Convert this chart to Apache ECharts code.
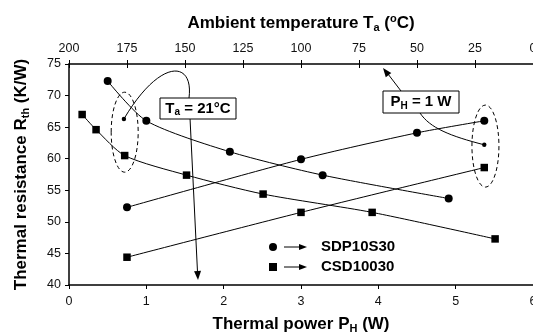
<!DOCTYPE html>
<html>
<head>
<meta charset="utf-8">
<script src="https://cdn.jsdelivr.net/npm/echarts@6/dist/echarts.min.js"></script>
<style>
html,body{margin:0;padding:0;background:#fff;}
#main{width:533px;height:334px;}
</style>
</head>
<body>
<div id="main"></div>
<script>
// Rth vs PH at Ta = 21°C (bottom axis)
var sdpPower = [0.5, 1.0, 2.08, 3.28, 4.91];
var sdpRthPower = [72.3, 66.0, 61.1, 57.4, 53.7];
var csdPower = [0.17, 0.35, 0.72, 1.52, 2.51, 3.92, 5.51];
var csdRthPower = [67.0, 64.6, 60.5, 57.4, 54.4, 51.5, 47.3];
// Rth vs Ta at PH = 1 W (top axis)
var sdpTemp = [175, 100, 50, 21];
var sdpRthTemp = [52.3, 59.9, 64.1, 66.0];
var csdTemp = [175, 100, 21];
var csdRthTemp = [44.4, 51.5, 58.6];

// axis ranges [min, max, interval]
var powerRange = [0, 6, 1];
var tempRange = [0, 200, 25];
var rthRange = [40, 75, 5];

var FONT = 'Liberation Sans, Arial, sans-serif';

function pairs(xs, ys){
	var out = [];
	for(var i = 0; i < xs.length; i++){
		out.push([xs[i], ys[i]]);
	}
	return out;
}

function lineSeries(name, xIdx, data, symbol){
	return {
		name: name,
		type: 'line',
		xAxisIndex: xIdx,
		yAxisIndex: 0,
		data: data,
		symbol: symbol,
		symbolSize: symbol == 'circle' ? 8 : 7.5,
		smooth: 0.25,
		lineStyle: {color: '#000', width: 1},
		itemStyle: {color: '#000'},
		z: 3
	};
}

// rich text for the axis titles (bigger) and the boxes
var titleRich = {
	b: {fontFamily: FONT, fontWeight: 'bold', fontSize: 17, color: '#000'},
	s: {fontFamily: FONT, fontWeight: 'bold', fontSize: 11, color: '#000', verticalAlign: 'bottom', padding: [9, 0, 0, 0]},
	u: {fontFamily: FONT, fontWeight: 'bold', fontSize: 11, color: '#000', verticalAlign: 'top', padding: [0, 0, 9, 0]}
};
var boxRich = {
	b: {fontFamily: FONT, fontWeight: 'bold', fontSize: 15, color: '#000'},
	s: {fontFamily: FONT, fontWeight: 'bold', fontSize: 10, color: '#000', verticalAlign: 'bottom', padding: [8, 0, 0, 0]}
};

var myChart = echarts.init(document.getElementById('main'));

var option = {
	animation: false,
	backgroundColor: '#fff',
	grid: {left: 69, top: 64, right: 0, bottom: 49, containLabel: false, outerBoundsMode: 'none'},
	xAxis: [{
		type: 'value',
		position: 'bottom',
		min: powerRange[0], max: powerRange[1], interval: powerRange[2],
		name: '{b|Thermal power P}{s|H}{b| (W)}',
		nameLocation: 'middle',
		nameGap: 29,
		nameTextStyle: {rich: titleRich},
		axisLine: {show: true, lineStyle: {color: '#000', width: 1.5}},
		axisTick: {show: true, inside: false, length: 4, lineStyle: {color: '#000'}},
		axisLabel: {fontFamily: FONT, fontSize: 12.5, color: '#111', margin: 10},
		splitLine: {show: false}
	}, {
		type: 'value',
		position: 'top',
		inverse: true,
		min: tempRange[0], max: tempRange[1], interval: tempRange[2],
		name: '{b|Ambient temperature T}{s|a}{b| (}{u|o}{b|C)}',
		nameLocation: 'middle',
		nameGap: 31,
		nameTextStyle: {rich: titleRich},
		axisLine: {show: true, lineStyle: {color: '#000', width: 1.5}},
		axisTick: {show: true, inside: false, length: 4, lineStyle: {color: '#000'}},
		axisLabel: {fontFamily: FONT, fontSize: 12.5, color: '#111', margin: 9},
		splitLine: {show: false}
	}, {
		// inner half of the crossing ticks on the top axis
		type: 'value',
		position: 'top',
		inverse: true,
		min: tempRange[0], max: tempRange[1], interval: tempRange[2],
		axisLine: {show: false},
		axisTick: {show: true, inside: true, length: 4, lineStyle: {color: '#000'}},
		axisLabel: {show: false},
		splitLine: {show: false}
	}],
	yAxis: [{
		type: 'value',
		min: rthRange[0], max: rthRange[1], interval: rthRange[2],
		name: '{b|Thermal resistance R}{s|th}{b| (K/W)}',
		nameLocation: 'middle',
		nameRotate: 90,
		nameGap: 38,
		nameTextStyle: {rich: titleRich},
		axisLine: {show: true, lineStyle: {color: '#000', width: 1.5}},
		axisTick: {show: true, inside: false, length: 4, lineStyle: {color: '#000'}},
		axisLabel: {fontFamily: FONT, fontSize: 12.5, color: '#111', margin: 8},
		splitLine: {show: false}
	}],
	series: [
		lineSeries('SDP10S30', 0, pairs(sdpPower, sdpRthPower), 'circle'),
		lineSeries('CSD10030', 0, pairs(csdPower, csdRthPower), 'rect'),
		lineSeries('SDP10S30 Ta', 1, pairs(sdpTemp, sdpRthTemp), 'circle'),
		lineSeries('CSD10030 Ta', 1, pairs(csdTemp, csdRthTemp), 'rect')
	]
};
myChart.setOption(option, true);

// 注释: ellipses, call-outs and legend
function px(xIdx, x, y){
	return myChart.convertToPixel({xAxisIndex: xIdx, yAxisIndex: 0}, [x, y]);
}

function arrowHead(x1, y1, x2, y2, len, half){
	var a = Math.atan2(y2 - y1, x2 - x1);
	var bx = x2 - len * Math.cos(a), by = y2 - len * Math.sin(a);
	var nx = -Math.sin(a) * half, ny = Math.cos(a) * half;
	return {
		type: 'polygon',
		shape: {points: [[x2, y2], [bx + nx, by + ny], [bx - nx, by - ny]]},
		style: {fill: '#000'},
		z: 10
	};
}

function seg(x1, y1, x2, y2){
	return {type: 'line', shape: {x1: x1, y1: y1, x2: x2, y2: y2}, style: {stroke: '#000', lineWidth: 1}, z: 10};
}

var lc = px(0, 0.72, 64.2);
var ld = px(0, 0.71, 66.3);
var rc = px(1, 20.5, 62.0);
var rd = px(1, 21, 62.2);

var g = [];
// dashed ellipses
g.push({type: 'ellipse', shape: {cx: lc[0], cy: lc[1], rx: 13.5, ry: 40}, style: {fill: 'none', stroke: '#000', lineWidth: 1, lineDash: [4, 3]}, z: 10});
g.push({type: 'ellipse', shape: {cx: rc[0], cy: rc[1], rx: 13.5, ry: 41}, style: {fill: 'none', stroke: '#000', lineWidth: 1, lineDash: [4, 3]}, z: 10});
g.push({type: 'circle', shape: {cx: ld[0], cy: ld[1], r: 2.2}, style: {fill: '#000'}, z: 10});
g.push({type: 'circle', shape: {cx: rd[0], cy: rd[1], r: 2.2}, style: {fill: '#000'}, z: 10});

// Ta = 21°C call-out
g.push({type: 'bezierCurve', shape: {x1: ld[0], y1: ld[1], cpx1: 160, cpy1: 58, cpx2: 194, cpy2: 60, x2: 189, y2: 98}, style: {stroke: '#000', lineWidth: 1, fill: 'none'}, z: 10});
g.push(seg(190, 118, 197.5, 272));
g.push(arrowHead(190, 118, 198, 280, 9, 3.5));
g.push({type: 'rect', shape: {x: 160, y: 98, width: 76, height: 21}, style: {fill: '#fff', stroke: '#000', lineWidth: 1}, z: 11});
g.push({type: 'text', x: 198, y: 108.5, style: {text: '{b|T}{s|a}{b| = 21°C}', rich: boxRich, align: 'center', verticalAlign: 'middle'}, z: 12});

// PH = 1 W call-out
g.push(seg(401, 91, 388, 74));
g.push(arrowHead(401, 91, 383, 68, 9, 3.5));
g.push({type: 'bezierCurve', shape: {x1: 420, y1: 113, cpx1: 430, cpy1: 128, cpx2: 450, cpy2: 136, x2: rd[0], y2: rd[1]}, style: {stroke: '#000', lineWidth: 1, fill: 'none'}, z: 10});
g.push({type: 'rect', shape: {x: 383, y: 91, width: 76, height: 22}, style: {fill: '#fff', stroke: '#000', lineWidth: 1}, z: 11});
g.push({type: 'text', x: 421, y: 102, style: {text: '{b|P}{s|H}{b| = 1 W}', rich: boxRich, align: 'center', verticalAlign: 'middle'}, z: 12});

// legend
g.push({type: 'circle', shape: {cx: 273, cy: 247, r: 4}, style: {fill: '#000'}, z: 10});
g.push(seg(284, 247, 300, 247));
g.push(arrowHead(284, 247, 307, 247, 8, 3));
g.push({type: 'text', x: 321, y: 247, style: {text: 'SDP10S30', fontFamily: FONT, fontWeight: 'bold', fontSize: 15, fill: '#000', verticalAlign: 'middle'}, z: 10});
g.push({type: 'rect', shape: {x: 269, y: 263, width: 8, height: 8}, style: {fill: '#000'}, z: 10});
g.push(seg(284, 267, 300, 267));
g.push(arrowHead(284, 267, 307, 267, 8, 3));
g.push({type: 'text', x: 321, y: 267, style: {text: 'CSD10030', fontFamily: FONT, fontWeight: 'bold', fontSize: 15, fill: '#000', verticalAlign: 'middle'}, z: 10});

myChart.setOption({graphic: g});
</script>
</body>
</html>
